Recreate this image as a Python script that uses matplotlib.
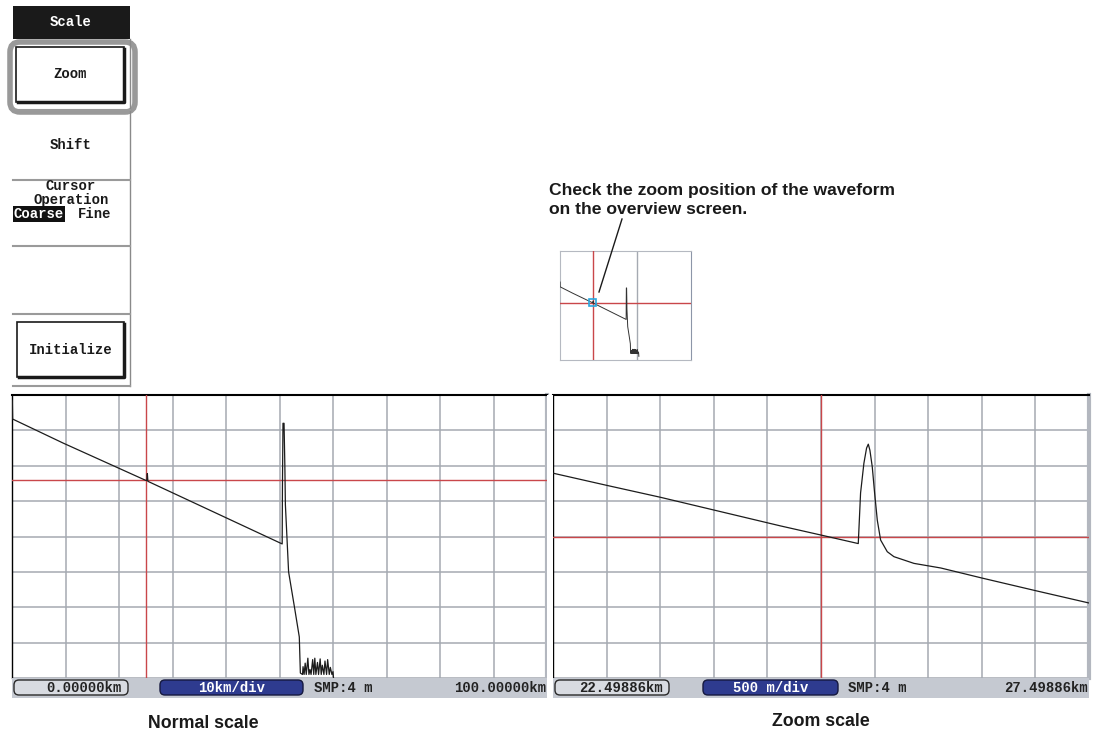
import numpy as np
import matplotlib
matplotlib.use("Agg")
import matplotlib.pyplot as plt
from matplotlib.patches import Rectangle, FancyBboxPatch

W, H = 1097, 738

# normal scale trace: distance (km) and level (dB)
normal_km = [0.0, 0.06, 0.12, 9.57, 24.95, 25.2, 25.3, 25.4, 50.5, 50.55, 50.65, 50.85,
             51.0, 51.1, 51.7, 52.8, 53.7, 53.9,
             54.3, 54.4, 54.6, 54.8, 55.0, 55.3, 55.5, 55.7, 55.9, 56.2, 56.4,
             56.6, 56.8, 57.1, 57.3, 57.6, 57.8, 58.0, 58.3, 58.5, 58.8, 59.0,
             59.3, 59.5, 59.8, 60.0, 60.2]
normal_db = [39.25, 39.2, 36.6, 33.2, 27.95, 27.9, 28.9, 27.8, 18.95, 27.0, 36.0, 36.0,
             30.0, 24.5, 15.0, 10.0, 5.8, 0.7,
             0.5, 1.6, 0.5, 2.1, 0.5, 2.8, 0.5, 1.2, 0.5, 2.6, 0.5,
             2.8, 0.5, 2.2, 0.5, 2.7, 0.5, 1.8, 0.5, 2.4, 0.5, 2.6,
             0.5, 1.5, 0.5, 0.9, -1.0]

# zoom scale trace
zoom_km = [22.499, 22.994, 23.499, 24.62, 25.0, 25.3465, 25.368, 25.399, 25.424,
           25.440, 25.455, 25.477, 25.499, 25.524, 25.555, 25.617, 25.679,
           25.866, 26.116, 26.508, 27.013, 27.499]
zoom_db = [28.895, 28.725, 28.555, 28.15, 28.02, 27.90, 28.615, 29.035, 29.25,
           29.305, 29.22, 28.985, 28.615, 28.23, 27.95, 27.785, 27.715,
           27.62, 27.555, 27.41, 27.23, 27.06]

normal_range = (0.0, 100.0)
zoom_range = (22.49886, 27.49886)
normal_db_range = (0.0, 40.0)
zoom_db_range = (26.0, 30.0)
cursor_km = 24.99886
normal_cursor_db = 27.95
zoom_cursor_db = 28.0
overview_marker_km = 59.0

normal_bar = ["0.00000km", "10km/div", "SMP:4 m", "100.00000km"]
zoom_bar = ["22.49886km", "500 m/div", "SMP:4 m", "27.49886km"]

MONO = "Liberation Mono"
SANS = "Liberation Sans"
RED = "#c9474a"
GRID = "#a5aab2"


def px_axes(fig, x0, y0, x1, y1):
    return fig.add_axes([x0 / W, 1 - y1 / H, (x1 - x0) / W, (y1 - y0) / H])


def draw_panel(ax, km, db, xlim, ylim, cur_db):
    ax.plot(km, db, color="#1c1c1c", lw=0.9, zorder=4)
    ax.set_xlim(xlim)
    ax.set_ylim(ylim)
    ax.set_xticks(np.linspace(xlim[0], xlim[1], 11))
    ax.set_yticks(np.linspace(ylim[0], ylim[1], 9))
    ax.grid(color=GRID, lw=1.1)
    ax.set_axisbelow(True)
    ax.tick_params(length=0, labelbottom=False, labelleft=False)
    ax.axvline(cursor_km, color=RED, lw=1, zorder=3)
    ax.axhline(cur_db, color=RED, lw=1, zorder=3)
    ax.spines["top"].set_linewidth(1.5)
    ax.spines["left"].set_linewidth(1.0)
    ax.spines["right"].set_color("#b3b7bf")
    ax.spines["right"].set_linewidth(3)
    ax.spines["bottom"].set_visible(False)


def draw_bar(ov, x0, x1, labels, box_w, blue_x, blue_w, smp_x):
    ov.add_patch(Rectangle((x0, 678), x1 - x0, 20, fc="#c5c9d1", ec="none"))
    ov.add_patch(FancyBboxPatch((x0 + 2, 680), box_w, 15,
                                boxstyle="round,pad=0,rounding_size=5",
                                fc="#d8dbe1", ec="#2a2a2a", lw=1))
    ov.text(x0 + box_w - 4, 688, labels[0], family=MONO, weight="bold",
            fontsize=10, ha="right", va="center", color="#222")
    ov.add_patch(FancyBboxPatch((blue_x, 680), blue_w, 15,
                                boxstyle="round,pad=0,rounding_size=5",
                                fc="#2e3b8f", ec="#15183f", lw=1))
    ov.text(blue_x + blue_w / 2, 688, labels[1], family=MONO, weight="bold",
            fontsize=10, ha="center", va="center", color="white")
    ov.text(smp_x, 688, labels[2], family=MONO, weight="bold", fontsize=10,
            ha="left", va="center", color="#222")
    ov.text(x1 - 1, 688, labels[3], family=MONO, weight="bold", fontsize=10,
            ha="right", va="center", color="#222")


fig = plt.figure(figsize=(W / 100, H / 100), dpi=100)

ax_n = px_axes(fig, 12, 395, 547, 678)
draw_panel(ax_n, normal_km, normal_db, normal_range, normal_db_range, normal_cursor_db)

ax_z = px_axes(fig, 553, 395, 1089, 678)
draw_panel(ax_z, zoom_km, zoom_db, zoom_range, zoom_db_range, zoom_cursor_db)

# overview inset
ax_o = px_axes(fig, 560, 251, 691, 360)
ax_o.plot(normal_km, normal_db, color="#333333", lw=0.7, zorder=4)
ax_o.set_xlim(normal_range)
ax_o.set_ylim(-3, 56)
ax_o.axvline(cursor_km, color=RED, lw=1, zorder=3)
ax_o.axhline(normal_cursor_db, color=RED, lw=1, zorder=3)
ax_o.axvline(overview_marker_km, color=GRID, lw=1)
ax_o.add_patch(Rectangle((zoom_range[0], zoom_db_range[0]),
                         zoom_range[1] - zoom_range[0],
                         zoom_db_range[1] - zoom_db_range[0],
                         fill=False, ec="#2aa8e0", lw=1.2, zorder=5))
ax_o.set_xticks([])
ax_o.set_yticks([])
for s in ax_o.spines.values():
    s.set_color("#b5b9c1")
ax_o.spines["right"].set_color("#8d96a8")

# overlay in pixel coordinates
ov = fig.add_axes([0, 0, 1, 1])
ov.set_xlim(0, W)
ov.set_ylim(H, 0)
ov.axis("off")
ov.patch.set_alpha(0)

draw_bar(ov, 12, 547, normal_bar, 114, 160, 143, 314)
draw_bar(ov, 553, 1089, zoom_bar, 114, 703, 135, 848)
ov.add_patch(Rectangle((547, 395), 6, 303, fc="white", ec="none"))

# soft key menu
ov.add_patch(Rectangle((13, 6), 117, 33, fc="#1a1a1a", ec="none"))
ov.text(71, 22, "Scale", family=MONO, weight="bold", fontsize=10,
        ha="center", va="center", color="white")
ov.plot([130, 130], [39, 386], color="#8a8a8a", lw=1)
for y in [110, 180, 246, 314, 386]:
    ov.plot([13, 130], [y, y], color="#9a9a9a", lw=1.5)


def button(x, y, w, h, label):
    ov.add_patch(Rectangle((x, y), w, h, fc="white", ec="#1a1a1a", lw=1.2))
    ov.plot([x + 2, x + w, x + w], [y + h, y + h, y + 2], color="#1a1a1a", lw=2.5)
    ov.text(x + w / 2, y + h / 2, label, family=MONO, weight="bold",
            fontsize=10, ha="center", va="center", color="#1a1a1a")


button(16, 47, 108, 55, "Zoom")
ov.add_patch(FancyBboxPatch((10, 42), 125, 70,
                            boxstyle="round,pad=0,rounding_size=10",
                            fc="none", ec="#999999", lw=4))
ov.text(71, 145, "Shift", family=MONO, weight="bold", fontsize=10,
        ha="center", va="center", color="#1a1a1a")
ov.text(71, 186, "Cursor", family=MONO, weight="bold", fontsize=10,
        ha="center", va="center", color="#1a1a1a")
ov.text(71, 200, "Operation", family=MONO, weight="bold", fontsize=10,
        ha="center", va="center", color="#1a1a1a")
ov.text(14, 214, "Coarse", family=MONO, weight="bold", fontsize=10,
        ha="left", va="center", color="white",
        bbox=dict(fc="#111111", ec="none", pad=0.5))
ov.text(78, 214, "Fine", family=MONO, weight="bold", fontsize=10,
        ha="left", va="center", color="#1a1a1a")
button(17, 322, 107, 55, "Initialize")

# annotation
ov.text(549, 200, "Check the zoom position of the waveform\non the overview screen.",
        family=SANS, weight="bold", fontsize=12.6, ha="left", va="center",
        linespacing=1.25, color="#1a1a1a")
ov.plot([622, 599], [219, 292], color="#1a1a1a", lw=1)

ov.text(203, 724, "Normal scale", family=SANS, weight="bold", fontsize=12.8,
        ha="center", va="center", color="#1a1a1a")
ov.text(821, 721, "Zoom scale", family=SANS, weight="bold", fontsize=12.8,
        ha="center", va="center", color="#1a1a1a")

fig.savefig("out.png", dpi=100)
